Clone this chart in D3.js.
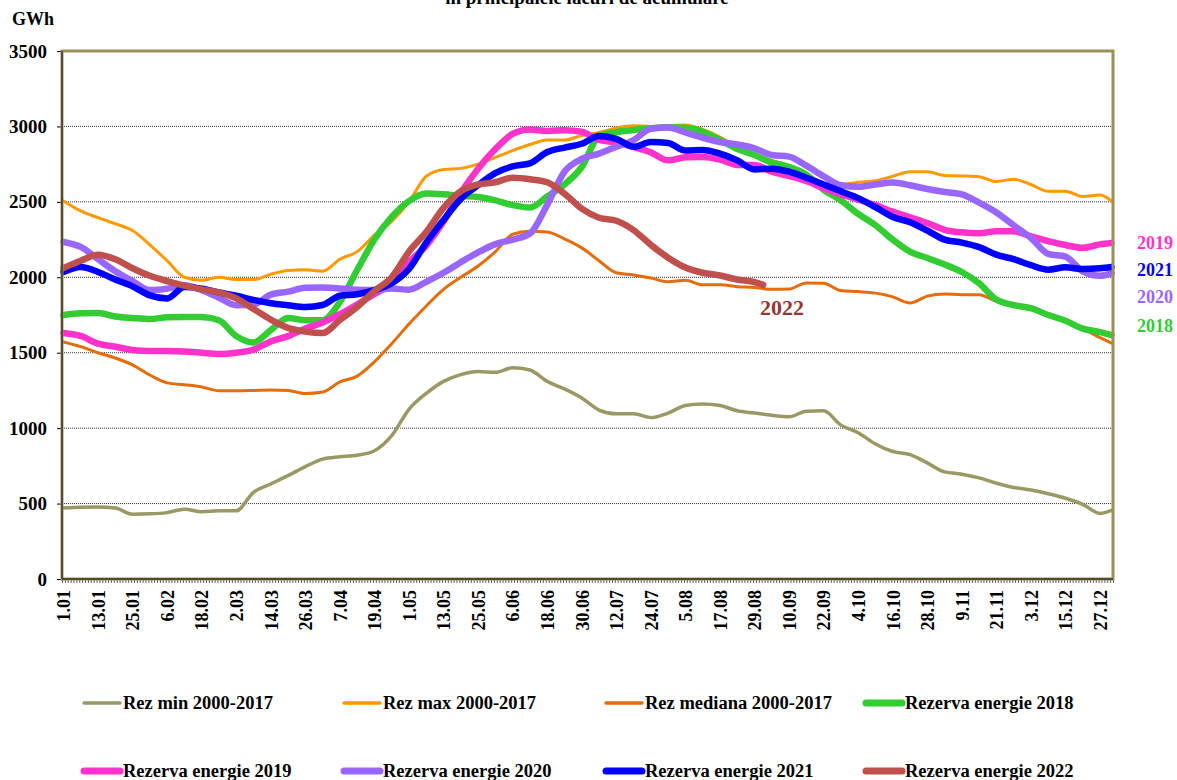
<!DOCTYPE html>
<html lang="ro">
<head>
<meta charset="UTF-8">
<title>Rezerva energie in principalele lacuri de acumulare</title>
<script src="https://d3js.org/d3.v7.min.js"></script>
<style>
  body { margin: 0; background: #fff; }
  svg text { font-family: "Liberation Serif", "Times New Roman", serif; font-weight: bold; }
</style>
</head>
<body>
<svg id="chart" width="1177" height="780"></svg>
<script>
// day of year (0 = 1 ianuarie) for each sampled value
var sampleDays = [0,6,12,18,24,30,36,42,48,54,60,66,72,78,84,90,96,102,108,114,120,126,132,138,144,150,156,162,168,174,180,186,192,198,204,210,216,222,228,234,240,246,252,258,264,270,276,282,288,294,300,306,312,318,324,330,336,342,348,354,360,364];
var days2022 = [0,6,12,18,24,30,36,42,48,54,60,66,72,78,84,90,96,102,108,114,120,126,132,138,144,150,156,162,168,174,180,186,192,198,204,210,216,222,228,234,240,243];

// x tick labels, one every 12 days
var tickLabels = ["1.01","13.01","25.01","6.02","18.02","2.03","14.03","26.03","7.04","19.04","1.05","13.05","25.05","6.06","18.06","30.06","12.07","24.07","5.08","17.08","29.08","10.09","22.09","4.10","16.10","28.10","9.11","21.11","3.12","15.12","27.12"];
var yTicks = [0,500,1000,1500,2000,2500,3000,3500];

// GWh
var rezMin = [470,475,477,470,430,432,440,462,446,452,452,575,630,685,745,795,810,820,850,950,1125,1230,1310,1355,1375,1370,1400,1385,1310,1260,1200,1120,1095,1095,1070,1100,1150,1160,1150,1115,1100,1085,1075,1112,1115,1020,970,895,845,825,770,710,695,670,635,607,590,565,535,495,435,455];
var rezMax = [2506,2440,2395,2355,2310,2215,2110,2000,1980,2000,1985,1985,2020,2045,2050,2040,2120,2170,2280,2370,2500,2670,2715,2722,2750,2795,2840,2880,2910,2910,2940,2960,2990,3005,3000,3005,3010,2980,2930,2860,2810,2775,2740,2690,2620,2615,2630,2640,2670,2700,2700,2675,2672,2667,2635,2650,2615,2570,2570,2535,2545,2506];
var rezMed = [1571,1540,1500,1465,1420,1352,1300,1288,1273,1248,1248,1250,1253,1250,1230,1240,1306,1345,1440,1560,1690,1810,1920,2000,2075,2170,2285,2305,2300,2255,2195,2110,2030,2015,1995,1970,1980,1950,1950,1938,1932,1920,1922,1962,1960,1912,1905,1895,1870,1830,1875,1890,1885,1885,1840,1808,1785,1755,1710,1660,1600,1564];
var rez2018 = [1750,1762,1763,1740,1730,1723,1735,1737,1737,1715,1610,1568,1650,1730,1715,1715,1836,2048,2250,2400,2505,2555,2550,2540,2532,2510,2478,2462,2535,2615,2731,2935,2962,2976,2988,2995,2992,2965,2910,2850,2810,2760,2731,2680,2580,2510,2420,2345,2250,2170,2128,2085,2035,1960,1852,1816,1795,1750,1712,1660,1637,1617];
var rez2019 = [1631,1611,1560,1540,1518,1511,1511,1508,1500,1492,1500,1520,1575,1610,1660,1700,1755,1820,1890,1960,2100,2210,2370,2560,2720,2850,2950,2980,2970,2975,2965,2910,2893,2864,2828,2775,2795,2797,2780,2745,2745,2700,2672,2638,2590,2550,2515,2478,2435,2398,2360,2315,2298,2292,2305,2305,2272,2240,2214,2195,2218,2227];
var rez2020 = [2234,2201,2120,2040,1975,1915,1925,1947,1915,1865,1815,1820,1885,1905,1930,1933,1926,1918,1915,1925,1918,1970,2030,2100,2165,2220,2250,2290,2480,2700,2785,2820,2865,2910,2985,2993,2960,2925,2897,2880,2855,2811,2800,2740,2670,2610,2600,2615,2628,2610,2585,2565,2550,2495,2430,2345,2260,2155,2137,2040,2010,2028];
var rez2021 = [2035,2068,2035,1985,1940,1880,1860,1935,1925,1900,1878,1850,1828,1815,1803,1816,1878,1888,1915,1960,2055,2230,2380,2520,2610,2690,2735,2755,2830,2860,2885,2937,2918,2865,2897,2890,2840,2844,2820,2775,2715,2720,2700,2660,2615,2570,2525,2465,2400,2365,2310,2250,2230,2200,2150,2120,2080,2050,2066,2055,2060,2068];
var rez2022 = [2062,2110,2150,2120,2060,2010,1975,1945,1920,1900,1860,1790,1720,1665,1640,1630,1717,1803,1910,2000,2170,2300,2460,2570,2615,2630,2660,2650,2630,2555,2455,2395,2375,2313,2215,2130,2065,2030,2012,1985,1968,1950];

var seriesNames = ["Rez min 2000-2017","Rez max 2000-2017","Rez mediana 2000-2017","Rezerva energie 2018","Rezerva energie 2019","Rezerva energie 2020","Rezerva energie 2021","Rezerva energie 2022"];
var seriesColors = ["#999966","#FF9900","#E46C0A","#33CC33","#FF33CC","#9966FF","#0000FF","#C0504D"];
var seriesWidths = [3.5,3,3,6.5,6.5,6.5,6.5,6.5];
var seriesValues = [rezMin, rezMax, rezMed, rez2018, rez2019, rez2020, rez2021, rez2022];

var series = seriesValues.map(function(vals, i) {
    var days = (i === 7) ? days2022 : sampleDays;
    return {
        name: seriesNames[i],
        color: seriesColors[i],
        width: seriesWidths[i],
        points: vals.map(function(v, j) { return { day: days[j], value: v }; })
    };
});

var svg = d3.select("#chart");
var plotLeft = 62, plotRight = 1113, plotTop = 51, plotBottom = 579;

var x = d3.scaleLinear().domain([-0.5, 364.5]).range([plotLeft, plotRight]);
var y = d3.scaleLinear().domain([0, 3500]).range([plotBottom, plotTop]);

// title (upper line falls outside the picture)
svg.append("text")
    .attr("x", 587).attr("y", 4)
    .attr("text-anchor", "middle")
    .style("font-size", "19px")
    .text("în principalele lacuri de acumulare");

svg.append("text")
    .attr("x", 12).attr("y", 25)
    .style("font-size", "18px")
    .text("GWh");

// dotted grid lines
svg.append("g")
    .selectAll("line")
    .data(yTicks.filter(function(d) { return d > 0 && d < 3500; }))
    .enter().append("line")
    .attr("x1", plotLeft).attr("x2", plotRight)
    .attr("y1", function(d) { return y(d); })
    .attr("y2", function(d) { return y(d); })
    .attr("stroke", "#333")
    .attr("stroke-width", 1)
    .attr("stroke-dasharray", "1,1");

// y axis
var yAxis = svg.append("g")
    .attr("transform", "translate(" + plotLeft + ",0)")
    .call(d3.axisLeft(y).tickValues(yTicks).tickSize(5).tickPadding(10).tickFormat(d3.format("d")));
yAxis.select(".domain").remove();
yAxis.selectAll("text").style("font-size", "19px").attr("fill", "#000");

// x axis: one small tick per day
var dayTicks = d3.range(366).map(function(i) { return i - 0.5; });
var xMinor = svg.append("g")
    .attr("transform", "translate(0," + plotBottom + ")")
    .call(d3.axisBottom(x).tickValues(dayTicks).tickSize(4).tickFormat(""));
xMinor.select(".domain").remove();
xMinor.selectAll("line").attr("stroke", "#333").attr("stroke-width", 0.8);

var xLabels = svg.append("g")
    .attr("transform", "translate(0," + plotBottom + ")")
    .call(d3.axisBottom(x)
        .tickValues(tickLabels.map(function(d, i) { return i * 12; }))
        .tickSize(0)
        .tickFormat(function(d, i) { return tickLabels[i]; }));
xLabels.select(".domain").remove();
xLabels.selectAll("text")
    .style("font-size", "18px")
    .attr("fill", "#000")
    .attr("text-anchor", "end")
    .attr("transform", "rotate(-90)")
    .attr("x", -11)
    .attr("y", 0)
    .attr("dy", "0.35em");

// series lines
var line = d3.line()
    .x(function(d) { return x(d.day); })
    .y(function(d) { return y(d.value); })
    .curve(d3.curveMonotoneX);

svg.append("g")
    .selectAll("path")
    .data(series)
    .enter().append("path")
    .attr("d", function(d) { return line(d.points); })
    .attr("fill", "none")
    .attr("stroke", function(d) { return d.color; })
    .attr("stroke-width", function(d) { return d.width; })
    .attr("stroke-linejoin", "round")
    .attr("stroke-linecap", "round");

// plot frame
svg.append("rect")
    .attr("x", plotLeft).attr("y", plotTop)
    .attr("width", plotRight - plotLeft).attr("height", plotBottom - plotTop)
    .attr("fill", "none")
    .attr("stroke", "#9C8F5C")
    .attr("stroke-width", 3);
svg.append("line")
    .attr("x1", plotLeft).attr("x2", plotLeft).attr("y1", plotTop).attr("y2", plotBottom)
    .attr("stroke", "#222").attr("stroke-width", 1.2);
svg.append("line")
    .attr("x1", plotLeft).attr("x2", plotRight).attr("y1", plotBottom).attr("y2", plotBottom)
    .attr("stroke", "#3a3620").attr("stroke-width", 1.5);

// year labels at the right end
var endLabels = [
    { text: "2019", color: "#FF33CC", y: 249 },
    { text: "2021", color: "#0000FF", y: 276 },
    { text: "2020", color: "#9966FF", y: 303 },
    { text: "2018", color: "#33CC33", y: 332 }
];
svg.append("g")
    .selectAll("text")
    .data(endLabels)
    .enter().append("text")
    .attr("x", 1137)
    .attr("y", function(d) { return d.y; })
    .attr("fill", function(d) { return d.color; })
    .style("font-size", "18px")
    .text(function(d) { return d.text; });

svg.append("text")
    .attr("x", 760).attr("y", 315)
    .attr("fill", "#953735")
    .style("font-size", "22px")
    .text("2022");

// legend, two rows of four
var legendX = [82, 342, 604, 864];
var legendY = [703, 771];
var legend = svg.append("g")
    .selectAll("g")
    .data(series)
    .enter().append("g")
    .attr("transform", function(d, i) {
        return "translate(" + legendX[i % 4] + "," + legendY[Math.floor(i / 4)] + ")";
    });
legend.append("line")
    .attr("x1", 2).attr("x2", 38)
    .attr("y1", 0).attr("y2", 0)
    .attr("stroke", function(d) { return d.color; })
    .attr("stroke-width", function(d, i) { return i < 3 ? 3.5 : 7; })
    .attr("stroke-linecap", "round");
legend.append("text")
    .attr("x", 41)
    .attr("y", 0)
    .attr("dy", "0.35em")
    .style("font-size", "18.5px")
    .text(function(d) { return d.name; });
</script>
</body>
</html>
